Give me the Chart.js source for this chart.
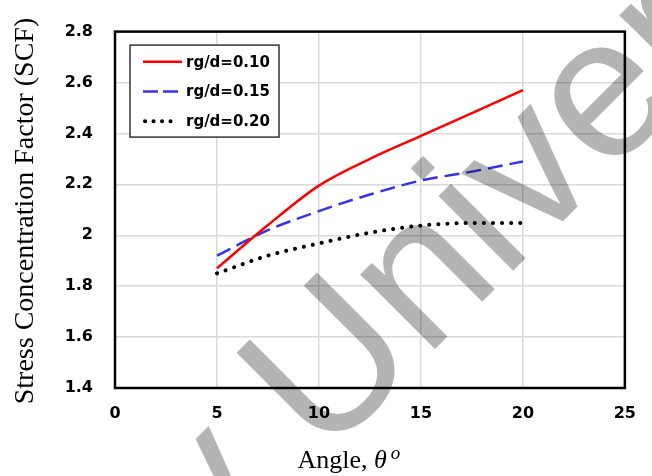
<!DOCTYPE html>
<html><head><meta charset="utf-8">
<script src="https://cdn.jsdelivr.net/npm/chart.js@4.4.1/dist/chart.umd.min.js"></script>
<style>html,body{margin:0;padding:0;background:#fff;}</style>
</head><body>
<canvas id="c" width="652" height="476"></canvas>
<script>
// ---- data ----
const angles  = [5, 7.5, 10, 12.5, 15, 17.5, 20];
const scf010  = [1.87, 2.04, 2.195, 2.30, 2.39, 2.48, 2.57];
const scf015  = [1.92, 2.02, 2.095, 2.16, 2.215, 2.25, 2.29];
const scf020  = [1.85, 1.92, 1.968, 2.01, 2.038, 2.048, 2.048];
const seriesLabels = ['rg/d=0.10', 'rg/d=0.15', 'rg/d=0.20'];
const xTicks = [0, 5, 10, 15, 20, 25];
const yTicks = [1.4, 1.6, 1.8, 2.0, 2.2, 2.4, 2.6, 2.8];
const yTitle = 'Stress Concentration Factor (SCF)';
const watermarkText = 'y University';

const pts = (ys) => angles.map((x, i) => ({x: x, y: ys[i]}));
const tickFont = {family: '"DejaVu Sans"', weight: 'bold', size: 16};

const bgPlugin = {
  id: 'bg',
  beforeDraw(chart) {
    const ctx = chart.ctx;
    ctx.save(); ctx.fillStyle = '#fff';
    ctx.fillRect(0, 0, chart.width, chart.height); ctx.restore();
  }
};

const framePlugin = {
  id: 'frame',
  afterDatasetsDraw(chart) {
    const {ctx, chartArea: a} = chart;
    ctx.save();
    ctx.strokeStyle = '#000'; ctx.lineWidth = 2.5;
    ctx.strokeRect(a.left, a.top, a.right - a.left, a.bottom - a.top);
    // legend box
    const bx = a.left + 15, by = a.top + 13.5, bw = 149, bh = 92;
    ctx.fillStyle = '#fff'; ctx.fillRect(bx, by, bw, bh);
    ctx.strokeStyle = '#333'; ctx.lineWidth = 1.5; ctx.strokeRect(bx, by, bw, bh);
    chart.data.datasets.forEach((ds, i) => {
      const y = by + 16.7 + i * 29.7;
      ctx.beginPath();
      ctx.strokeStyle = ds.borderColor; ctx.lineWidth = ds.borderWidth;
      ctx.setLineDash(ds.legendDash); ctx.lineCap = ds.borderCapStyle || 'butt';
      ctx.moveTo(bx + ds.legendFrom, y); ctx.lineTo(bx + ds.legendTo, y);
      ctx.stroke();
      ctx.setLineDash([]);
      ctx.fillStyle = '#000'; ctx.font = 'bold 15px "DejaVu Sans"';
      ctx.textBaseline = 'middle'; ctx.textAlign = 'left';
      ctx.fillText(ds.label, bx + 56, y + 1);
    });
    ctx.restore();
  },
  afterDraw(chart) {
    const {ctx, chartArea: a} = chart;
    // y-axis title
    ctx.save();
    ctx.fillStyle = '#000';
    ctx.font = '28px "Liberation Serif"';
    ctx.translate(33, 211);
    ctx.rotate(-Math.PI / 2);
    ctx.textAlign = 'center'; ctx.textBaseline = 'alphabetic';
    ctx.fillText(yTitle, 0, 0);
    ctx.restore();
    // x-axis title with italic theta and superscript o
    ctx.save();
    ctx.fillStyle = '#000'; ctx.textBaseline = 'alphabetic'; ctx.textAlign = 'left';
    const f1 = '26px "Liberation Serif"', f2 = 'italic 26px "Liberation Serif"', f3 = 'italic 19px "Liberation Serif"';
    const p1 = 'Angle, ', p2 = '\u03B8', p3 = 'o';
    ctx.font = f1; const w1 = ctx.measureText(p1).width;
    ctx.font = f2; const w2 = ctx.measureText(p2).width;
    ctx.font = f3; const w3 = ctx.measureText(p3).width;
    const total = w1 + w2 + 4 + w3;
    let x = (a.left + a.right) / 2 - 21 - total / 2;
    const yb = 468;
    ctx.font = f1; ctx.fillText(p1, x, yb); x += w1;
    ctx.font = f2; ctx.fillText(p2, x, yb); x += w2 + 4;
    ctx.font = f3; ctx.fillText(p3, x, yb - 9);
    ctx.restore();
    // watermark
    ctx.save();
    ctx.globalCompositeOperation = 'multiply';
    ctx.fillStyle = 'rgb(180,180,180)';
    ctx.font = '200px "Liberation Sans"';
    ctx.translate(323, 461);
    ctx.rotate(-Math.PI / 4);
    const wy = ctx.measureText('y ').width;
    ctx.textBaseline = 'alphabetic';
    ctx.fillText(watermarkText, -wy, 0);
    ctx.restore();
  }
};

new Chart(document.getElementById('c'), {
  type: 'scatter',
  data: {
    datasets: [
      {label: seriesLabels[0], data: pts(scf010), showLine: true, borderColor: '#ff0000', borderWidth: 2.5,
       pointRadius: 0, cubicInterpolationMode: 'monotone', legendDash: [], legendFrom: 13, legendTo: 52},
      {label: seriesLabels[1], data: pts(scf015), showLine: true, borderColor: '#3333ee', borderWidth: 2.5,
       borderDash: [15, 7], pointRadius: 0, cubicInterpolationMode: 'monotone', legendDash: [15, 5], legendFrom: 13, legendTo: 48},
      {label: seriesLabels[2], data: pts(scf020), showLine: true, borderColor: '#000000', borderWidth: 4,
       borderDash: [0.1, 9], borderCapStyle: 'round', pointRadius: 0, cubicInterpolationMode: 'monotone',
       legendDash: [0.1, 8.4], legendFrom: 15, legendTo: 41}
    ]
  },
  options: {
    responsive: false, animation: false, devicePixelRatio: 1,
    layout: {padding: {top: 21, right: 13, left: 0, bottom: 0}},
    plugins: {legend: {display: false}, tooltip: {enabled: false}},
    scales: {
      x: {
        type: 'linear', min: 0, max: 25,
        afterBuildTicks: (s) => { s.ticks = xTicks.map(v => ({value: v})); },
        afterFit: (s) => { s.height = 88; },
        grid: {color: '#d9d9d9', lineWidth: 1.5, drawTicks: false},
        border: {display: false},
        ticks: {padding: 16, color: '#000', font: tickFont, callback: (v) => String(v)}
      },
      y: {
        type: 'linear', min: 1.4, max: 2.8,
        afterBuildTicks: (s) => { s.ticks = yTicks.map(v => ({value: v})); },
        afterFit: (s) => { s.width = 115; },
        grid: {color: '#d9d9d9', lineWidth: 1.5, drawTicks: false},
        border: {display: false},
        ticks: {padding: 22, color: '#000', font: tickFont, callback: (v) => String(Math.round(v * 10) / 10)}
      }
    }
  },
  plugins: [bgPlugin, framePlugin]
});
</script>
</body></html>
